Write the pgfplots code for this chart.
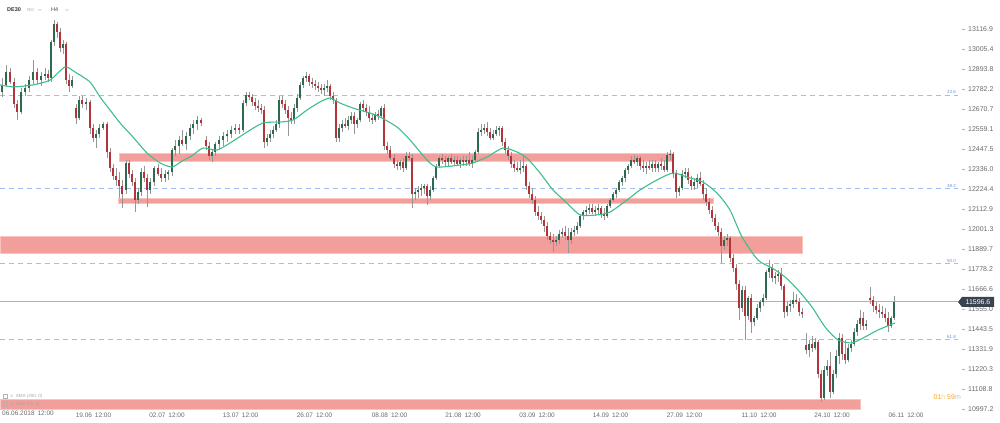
\documentclass[border=0pt]{standalone}
\usepackage{pgfplots}
\usepackage{pgfplotstable}
\pgfplotsset{compat=1.18}
\usepackage{fontspec}
\setmainfont{Liberation Sans}

\definecolor{upc}{RGB}{44,105,78}
\definecolor{dnc}{RGB}{178,52,58}
\definecolor{wick}{RGB}{150,150,150}
\definecolor{ema}{RGB}{62,190,140}
\definecolor{zone}{RGB}{242,158,155}
\definecolor{zoneedge}{RGB}{250,195,190}
\definecolor{fib}{RGB}{160,190,245}
\definecolor{fibtxt}{RGB}{95,150,235}
\definecolor{axtxt}{RGB}{105,105,105}
\definecolor{pricebox}{RGB}{58,68,80}
\definecolor{timer}{RGB}{245,166,35}

% H4 candles: x (pixel column), open, high, low, close
\pgfplotstableread{
x o h l c
2 12765 12844 12738 12805
6 12805 12916 12799 12877
10 12877 12899 12810 12821
14 12821 12844 12676 12699
17 12699 12721 12609 12654
21 12654 12788 12643 12766
25 12766 12810 12743 12788
29 12788 12855 12766 12832
33 12832 12944 12810 12877
37 12877 12899 12810 12832
41 12832 12877 12799 12855
45 12855 12899 12832 12866
48 12866 12888 12821 12844
51 12844 13056 12821 13044
54 13044 13167 13022 13145
57 13145 13156 13067 13100
60 13100 13122 12989 13011
63 13011 13056 12977 13033
66 13033 13044 12810 12832
69 12832 12866 12766 12799
72 12799 12855 12788 12832
76 12676 12699 12587 12620
79 12620 12743 12609 12721
82 12721 12743 12676 12699
86 12699 12732 12665 12710
90 12710 12721 12531 12565
93 12565 12587 12487 12509
96 12509 12554 12453 12531
99 12531 12587 12509 12565
103 12565 12598 12554 12587
107 12587 12598 12397 12431
110 12431 12453 12319 12342
113 12342 12364 12275 12297
116 12297 12342 12241 12275
119 12275 12319 12174 12241
122 12241 12275 12118 12197
126 12219 12386 12197 12370
129 12370 12386 12286 12308
132 12308 12330 12241 12263
135 12263 12286 12096 12163
138 12163 12230 12141 12208
141 12208 12342 12185 12319
144 12319 12353 12263 12286
147 12286 12308 12124 12219
150 12219 12286 12197 12263
154 12263 12353 12241 12342
158 12342 12364 12297 12308
161 12308 12342 12263 12286
165 12286 12330 12263 12308
168 12308 12330 12275 12319
172 12319 12453 12297 12442
175 12442 12498 12408 12464
179 12464 12520 12420 12498
182 12498 12554 12464 12475
186 12475 12542 12442 12520
190 12520 12587 12498 12565
193 12565 12609 12531 12587
197 12587 12632 12554 12609
201 12609 12620 12576 12593
206 12498 12520 12442 12464
209 12464 12487 12386 12408
212 12408 12442 12375 12431
215 12431 12487 12408 12475
219 12475 12520 12442 12498
223 12498 12542 12464 12520
227 12520 12554 12487 12531
231 12531 12576 12509 12554
235 12554 12587 12531 12565
239 12565 12587 12531 12554
243 12554 12721 12542 12704
246 12704 12766 12687 12749
249 12749 12766 12721 12738
252 12738 12754 12687 12710
255 12710 12732 12665 12687
258 12687 12721 12654 12676
261 12676 12699 12643 12665
264 12665 12687 12453 12487
267 12487 12531 12464 12509
270 12509 12554 12487 12531
273 12531 12576 12509 12554
276 12554 12609 12542 12587
279 12587 12743 12565 12721
282 12721 12743 12676 12699
285 12699 12721 12643 12665
288 12665 12687 12520 12620
291 12620 12654 12587 12609
294 12609 12699 12587 12676
297 12676 12754 12654 12732
300 12732 12821 12721 12805
303 12805 12855 12788 12844
306 12844 12877 12821 12855
309 12855 12866 12799 12821
312 12821 12844 12788 12810
315 12810 12832 12777 12799
318 12799 12821 12766 12788
321 12788 12810 12754 12777
324 12777 12810 12743 12788
327 12788 12832 12766 12799
330 12799 12810 12721 12743
333 12743 12766 12699 12721
336 12721 12732 12487 12509
339 12509 12587 12487 12565
342 12565 12609 12542 12587
345 12587 12620 12565 12576
348 12576 12632 12554 12609
351 12609 12654 12587 12632
354 12632 12654 12531 12587
357 12587 12620 12565 12609
360 12609 12710 12598 12699
363 12699 12721 12654 12676
366 12676 12699 12632 12654
369 12654 12687 12598 12620
372 12620 12643 12587 12609
375 12609 12654 12598 12643
378 12643 12665 12609 12632
381 12632 12687 12620 12676
384 12676 12699 12442 12464
387 12464 12487 12420 12442
390 12442 12464 12386 12397
394 12397 12420 12342 12364
397 12364 12386 12330 12353
400 12353 12386 12330 12375
403 12375 12397 12319 12342
406 12342 12431 12330 12408
409 12408 12431 12386 12397
412 12397 12420 12118 12197
415 12197 12230 12163 12208
418 12208 12241 12174 12219
421 12219 12252 12185 12230
424 12230 12252 12197 12241
427 12241 12252 12135 12185
430 12185 12241 12163 12219
433 12219 12297 12208 12286
436 12286 12364 12275 12353
439 12353 12408 12342 12397
442 12397 12420 12364 12386
445 12386 12408 12353 12375
448 12375 12408 12353 12397
451 12397 12420 12364 12375
454 12375 12408 12353 12386
457 12386 12408 12353 12364
460 12364 12397 12342 12386
463 12386 12408 12353 12375
466 12375 12408 12353 12386
469 12386 12431 12353 12364
472 12364 12408 12342 12386
475 12386 12442 12375 12431
478 12431 12565 12420 12542
481 12542 12587 12520 12554
484 12554 12587 12531 12565
487 12565 12598 12520 12542
490 12542 12565 12498 12509
493 12509 12554 12498 12531
496 12531 12576 12520 12554
499 12554 12576 12520 12565
502 12565 12576 12464 12487
505 12487 12509 12420 12442
508 12442 12464 12386 12408
511 12408 12431 12342 12364
514 12364 12386 12319 12342
517 12342 12375 12319 12330
520 12330 12386 12308 12342
523 12342 12408 12319 12353
526 12353 12364 12219 12241
529 12241 12263 12174 12197
532 12197 12230 12141 12163
535 12163 12185 12074 12096
538 12096 12130 12052 12074
541 12074 12096 12029 12052
544 12052 12074 11985 12018
547 12018 12040 11940 11962
550 11962 11985 11918 11940
553 11940 11973 11873 11929
556 11929 11962 11906 11940
559 11940 11996 11918 11973
562 11973 12007 11951 11985
565 11985 12018 11940 11962
568 11962 12007 11867 11940
571 11940 12007 11918 11985
574 11985 12018 11962 11996
577 11996 12040 11973 12018
580 12018 12085 12007 12074
583 12074 12107 12052 12096
586 12096 12130 12074 12107
589 12107 12141 12085 12118
592 12118 12141 12085 12096
595 12096 12130 12074 12107
598 12107 12141 12085 12118
601 12118 12130 12063 12085
604 12085 12118 12052 12074
607 12074 12141 12063 12130
610 12130 12174 12118 12163
613 12163 12208 12152 12197
616 12197 12230 12174 12219
619 12219 12275 12208 12263
622 12263 12297 12241 12286
625 12286 12342 12263 12330
628 12330 12364 12308 12353
631 12353 12408 12342 12386
634 12386 12414 12364 12375
637 12375 12408 12353 12397
640 12397 12408 12330 12353
643 12353 12386 12319 12342
646 12342 12375 12308 12353
649 12353 12386 12330 12342
652 12342 12386 12319 12364
655 12364 12386 12319 12342
658 12342 12375 12319 12364
661 12364 12397 12330 12353
664 12353 12386 12319 12330
667 12330 12431 12319 12414
670 12414 12442 12386 12420
673 12420 12431 12286 12308
676 12308 12330 12174 12208
679 12208 12241 12185 12230
682 12230 12330 12219 12308
685 12308 12342 12286 12319
688 12319 12342 12252 12275
691 12275 12297 12219 12241
694 12241 12286 12219 12263
697 12263 12308 12230 12286
700 12286 12319 12241 12252
703 12252 12275 12163 12197
706 12197 12230 12130 12152
709 12152 12174 12085 12107
712 12107 12130 12040 12063
715 12063 12085 11996 12018
718 12018 12040 11962 11985
721 11985 12007 11812 11906
724 11906 11962 11884 11940
727 11940 11973 11906 11951
730 11951 11962 11817 11840
733 11840 11862 11761 11784
736 11784 11806 11661 11695
739 11695 11717 11494 11561
742 11561 11683 11538 11661
745 11661 11683 11382 11516
748 11516 11628 11494 11616
751 11616 11639 11421 11482
754 11482 11516 11460 11505
757 11505 11583 11494 11561
760 11561 11605 11538 11594
763 11594 11639 11572 11616
766 11616 11773 11605 11761
769 11761 11828 11728 11784
772 11784 11806 11706 11728
775 11728 11761 11695 11739
778 11739 11773 11706 11750
781 11750 11784 11661 11683
784 11683 11695 11505 11538
787 11538 11594 11516 11572
790 11572 11605 11538 11583
793 11583 11650 11561 11605
796 11605 11639 11583 11594
799 11594 11616 11516 11538
802 11538 11561 11505 11527
806 11354 11421 11304 11326
809 11326 11382 11287 11360
812 11360 11405 11315 11338
815 11338 11393 11326 11371
818 11371 11382 11170 11193
821 11193 11215 11036 11059
824 11059 11237 11048 11215
827 11215 11271 11181 11237
830 11237 11315 11059 11092
833 11092 11215 11081 11193
836 11193 11326 11170 11293
839 11293 11421 11248 11393
842 11393 11416 11271 11304
845 11304 11382 11248 11271
848 11271 11360 11259 11338
851 11338 11382 11315 11360
854 11360 11449 11349 11427
857 11427 11494 11405 11471
860 11471 11550 11438 11505
863 11505 11538 11438 11460
866 11460 11494 11438 11471
870 11616 11678 11583 11605
873 11605 11628 11538 11572
876 11572 11594 11527 11550
879 11550 11583 11505 11538
882 11538 11572 11505 11527
885 11527 11561 11482 11505
888 11505 11538 11427 11460
891 11460 11516 11449 11505
894 11505 11628 11494 11597
}\candles

% EMA (55)
\pgfplotstableread{
x y
0 12805
13 12794
33 12805
50 12832
65 12905
75 12877
90 12821
100 12738
110 12665
120 12593
133 12514
147 12425
160 12370
172 12347
182 12380
192 12410
203 12453
217 12442
230 12481
247 12542
263 12593
280 12598
293 12609
307 12665
320 12710
330 12732
340 12704
353 12676
370 12648
380 12626
397 12570
410 12498
427 12386
437 12347
460 12358
473 12370
487 12403
503 12453
517 12431
527 12397
540 12314
553 12219
567 12146
580 12080
597 12080
610 12096
627 12163
640 12219
657 12275
673 12314
687 12291
703 12263
717 12202
730 12107
742 11957
758 11828
772 11784
785 11734
798 11661
812 11566
825 11455
838 11382
852 11366
865 11399
878 11438
895 11477
}\ema

\begin{document}
\begin{tikzpicture}
\useasboundingbox (0,0) rectangle (1000bp,423bp);
\begin{axis}[
  at={(0,13bp)}, anchor=south west,
  scale only axis, width=958bp, height=410bp,
  xmin=0, xmax=958, ymin=10991.7, ymax=13278.7,
  clip=false,
  scaled y ticks=false, scaled x ticks=false,
  axis line style={draw=none},
  xtick pos=bottom,
  xtick={93.5,167,240.5,314.5,389.5,463,537,610.5,684.5,759,832,906},
  xticklabels={19.06\hspace{3bp}12:00,02.07\hspace{3bp}12:00,13.07\hspace{3bp}12:00,26.07\hspace{3bp}12:00,08.08\hspace{3bp}12:00,21.08\hspace{3bp}12:00,03.09\hspace{3bp}12:00,14.09\hspace{3bp}12:00,27.09\hspace{3bp}12:00,11.10\hspace{3bp}12:00,24.10\hspace{3bp}12:00,06.11\hspace{3bp}12:00},
  xtick style={draw=none},
  xticklabel style={font=\fontsize{6.5}{7}\selectfont, text=axtxt, inner sep=0pt},
  ytick pos=right,
  ytick={10997.2,11108.8,11220.3,11331.9,11443.5,11555.0,11666.6,11778.2,11889.7,12001.3,12112.9,12224.4,12336.0,12447.5,12559.1,12670.7,12782.2,12893.8,13005.4,13116.9},
  yticklabels={10997.2,11108.8,11220.3,11331.9,11443.5,11555.0,11666.6,11778.2,11889.7,12001.3,12112.9,12224.4,12336.0,12447.5,12559.1,12670.7,12782.2,12893.8,13005.4,13116.9},
  tick align=outside,
  major tick length=3bp,
  ytick style={draw=axtxt!50, line width=0.4bp, xshift=4bp},
  yticklabel style={font=\fontsize{7}{8}\selectfont, text=axtxt, inner sep=0pt, xshift=7bp},
]
% zones
\addplot[fill=zone, draw=zoneedge, line width=0.5bp] coordinates {(119,12381) (672,12381) (672,12425) (119,12425) (119,12381)};
\addplot[fill=zone, draw=zoneedge, line width=0.5bp] coordinates {(118,12146) (713,12146) (713,12174) (118,12174) (118,12146)};
\addplot[fill=zone, draw=zoneedge, line width=0.5bp] coordinates {(0,11867) (802,11867) (802,11962) (0,11962) (0,11867)};
\addplot[fill=zone, draw=zoneedge, line width=0.5bp] coordinates {(0,10997) (860,10997) (860,11053) (0,11053) (0,10997)};
% fibonacci levels
\addplot[fib, line width=0.6bp, dash pattern=on 5bp off 4bp] coordinates {(0,12749) (958,12749)};
\addplot[fib, line width=0.6bp, dash pattern=on 5bp off 4bp] coordinates {(0,12226) (958,12226)};
\addplot[fib, line width=0.6bp, dash pattern=on 5bp off 4bp] coordinates {(0,11810) (958,11810)};
\addplot[fib, line width=0.6bp, dash pattern=on 5bp off 4bp] coordinates {(0,11386) (958,11386)};
% last price
\addplot[gray!60, line width=0.6bp] coordinates {(0,11596.6) (958,11596.6)};
% wicks
\addplot[draw=none, mark=none, error bars/.cd, y dir=both, y explicit, error mark=none,
  error bar style={draw=wick, line width=0.5bp}]
  table[x=x, y expr={(\thisrow{h}+\thisrow{l})/2}, y error expr={(\thisrow{h}-\thisrow{l})/2}] {\candles};
% bodies
\addplot[draw=none, mark=none, restrict expr to domain={\thisrow{c}-\thisrow{o}}{0:100000},
  error bars/.cd, y dir=both, y explicit, error mark=none,
  error bar style={draw=upc, line width=1.9bp}]
  table[x=x, y expr={(\thisrow{o}+\thisrow{c})/2}, y error expr={(\thisrow{c}-\thisrow{o})/2}] {\candles};
\addplot[draw=none, mark=none, restrict expr to domain={\thisrow{o}-\thisrow{c}}{0.5:100000},
  error bars/.cd, y dir=both, y explicit, error mark=none,
  error bar style={draw=dnc, line width=1.9bp}]
  table[x=x, y expr={(\thisrow{o}+\thisrow{c})/2}, y error expr={(\thisrow{o}-\thisrow{c})/2}] {\candles};
% EMA
\addplot[ema, line width=1.1bp, smooth, tension=0.4] table[x=x, y=y] {\ema};
% fib labels
\node[anchor=south east, inner sep=1bp, font=\fontsize{4.5}{5}\selectfont, text=fibtxt] at (axis cs:957,12749) {23.6};
\node[anchor=south east, inner sep=1bp, font=\fontsize{4.5}{5}\selectfont, text=fibtxt] at (axis cs:957,12226) {38.2};
\node[anchor=south east, inner sep=1bp, font=\fontsize{4.5}{5}\selectfont, text=fibtxt] at (axis cs:957,11810) {50.0};
\node[anchor=south east, inner sep=1bp, font=\fontsize{4.5}{5}\selectfont, text=fibtxt] at (axis cs:957,11386) {61.8};
\end{axis}
% first date label
\node[anchor=west, inner sep=0pt, font=\fontsize{6.5}{7}\selectfont, text=axtxt] at (2bp,10bp) {06.06.2018\hspace{3bp}12:00};
% header
\node[anchor=west, inner sep=0pt, font=\bfseries\fontsize{5.5}{6}\selectfont, text=black!80] at (7bp,413bp) {DE30};
\node[anchor=west, inner sep=0pt, font=\fontsize{4.5}{5}\selectfont, text=gray!70] at (27bp,413bp) {NO};
\draw[gray!60, line width=0.4bp] (38.5bp,413.8bp) -- (40bp,412.3bp) -- (41.5bp,413.8bp);
\node[anchor=west, inner sep=0pt, font=\fontsize{5.5}{6}\selectfont, text=black!75] at (51bp,413bp) {H4};
\draw[gray!60, line width=0.4bp] (65.5bp,413.8bp) -- (67bp,412.3bp) -- (68.5bp,413.8bp);
% indicator captions
\draw[gray!60, line width=0.3bp] (3bp,24.5bp) rectangle (7bp,28.5bp);
\node[anchor=west, inner sep=0pt, font=\fontsize{4.5}{5}\selectfont, text=gray!70] at (9bp,26.5bp) {$\times$ SMA (200, 0)};
\draw[gray!60, line width=0.3bp] (3bp,17bp) rectangle (7bp,21bp);
\node[anchor=west, inner sep=0pt, font=\fontsize{4.5}{5}\selectfont, text=gray!70] at (9bp,19bp) {$\times$ EMA (55, 0)};
% candle timer
\node[anchor=east, inner sep=0pt, font=\fontsize{7}{8}\selectfont] at (961bp,26bp) {\textcolor{timer}{01}\textcolor{timer!50}{h} \textcolor{timer}{59}\textcolor{gray!50}{m}};
% last price tag
\fill[pricebox] (958bp,121bp) -- (962bp,126bp) -- (994bp,126bp) -- (994bp,116bp) -- (962bp,116bp) -- cycle;
\node[inner sep=0pt, font=\fontsize{7}{8}\selectfont, text=white] at (978bp,121bp) {11596.6};
\end{tikzpicture}
\end{document}
